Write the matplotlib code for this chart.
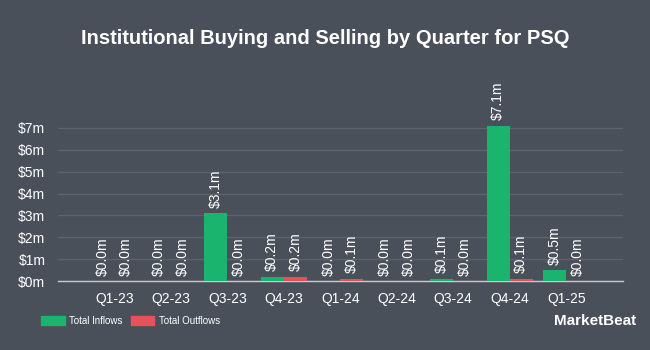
import numpy as np
import matplotlib
matplotlib.use("Agg")
import matplotlib.pyplot as plt
from matplotlib.patches import Patch

quarters = ["Q1-23", "Q2-23", "Q3-23", "Q4-23", "Q1-24", "Q2-24", "Q3-24", "Q4-24", "Q1-25"]
inflows  = [0.0, 0.0, 3.1, 0.2, 0.0, 0.0, 0.1, 7.1, 0.5]
outflows = [0.0, 0.0, 0.0, 0.2, 0.1, 0.0, 0.0, 0.1, 0.0]
yticks   = [0, 1, 2, 3, 4, 5, 6, 7]

BG    = "#4a505a"
GREEN = "#1bb46f"
RED   = "#e8505b"
GRID  = "#5d636d"
TXT   = "#ffffff"

plt.rcParams['font.family'] = ['Liberation Sans', 'DejaVu Sans']

fig = plt.figure(figsize=(6.5, 3.5), dpi=100, facecolor=BG)
ax = fig.add_axes([0.089, 0.197, 0.869, 0.45])
ax.set_facecolor(BG)

x = np.arange(len(quarters))
w = 0.41
b1 = ax.bar(x - w / 2, inflows, w, color=GREEN, zorder=3)
b2 = ax.bar(x + w / 2, outflows, w, color=RED, zorder=3)

# value labels, rotated, sitting just above each bar
for bars, vals in ((b1, inflows), (b2, outflows)):
    for rect, v in zip(bars, vals):
        ax.text(rect.get_x() + rect.get_width() / 2, v + 0.25, f"${v:.1f}m",
                rotation=90, ha="center", va="bottom", color=TXT,
                fontsize=10, clip_on=False, zorder=4)

ax.set_xlim(-1, 9)
ax.set_ylim(0, 7.2)
ax.set_yticks(yticks)
ax.set_yticklabels([f"${t}m" for t in yticks])
ax.set_xticks(x)
ax.set_xticklabels(quarters)
ax.tick_params(axis="both", colors=TXT, labelsize=10, length=0)
ax.tick_params(axis="y", pad=9)
ax.tick_params(axis="x", pad=8)
ax.yaxis.grid(True, color=GRID, linewidth=1, zorder=0)
for s in ("top", "right", "left"):
    ax.spines[s].set_visible(False)
ax.spines["bottom"].set_color("#c8cbd0")
ax.spines["bottom"].set_linewidth(1)

fig.text(0.5, 0.89, "Institutional Buying and Selling by Quarter for PSQ",
         ha="center", va="center", color=TXT, fontsize=14.5, fontweight="bold")

handles = [Patch(color=GREEN, label="Total Inflows"), Patch(color=RED, label="Total Outflows")]
fig.legend(handles=handles, loc="center left", bbox_to_anchor=(0.05, 0.083), ncol=2,
           frameon=False, fontsize=7, labelcolor=TXT, handlelength=2.4,
           handleheight=1.0, columnspacing=0.8, handletextpad=0.5)

fig.text(0.978, 0.083, "MarketBeat", ha="right", va="center", color=TXT,
         fontsize=11, fontweight="bold")

fig.savefig("out.png", dpi=100, facecolor=BG)
